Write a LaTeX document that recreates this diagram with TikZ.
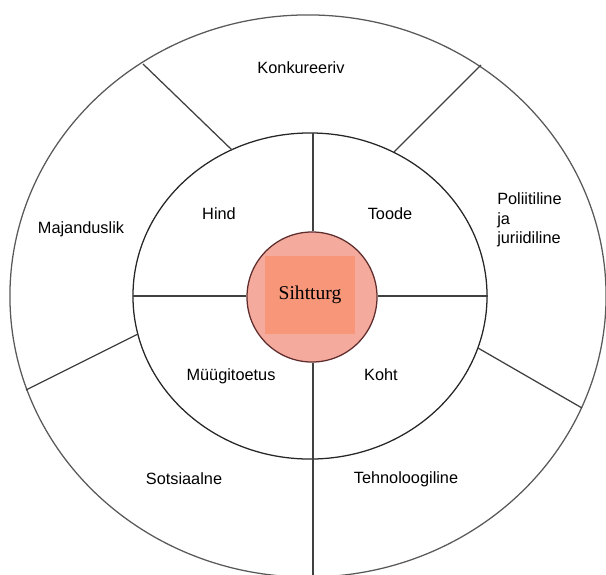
\documentclass[tikz,border=0pt]{standalone}
\usepackage{fontspec}
\setmainfont{Liberation Sans}
\newfontfamily\tnrfont{Liberation Serif}
\usepackage{xcolor}
\usepackage{tikz}
\usetikzlibrary{
  positioning,
  calc
}

\definecolor{hubpink}{RGB}{244,170,156}
\definecolor{hubcore}{RGB}{248,150,122}
\definecolor{hubrim}{RGB}{95,45,45}

\begin{document}
\begin{tikzpicture}[
    x=0.025cm, y=-0.025cm,
    font=\fontsize{11.6}{13.8}\selectfont,
    ring/.style={draw=black!65, line width=0.9pt},
    divider/.style={draw=black!75, line width=0.9pt},
    hub/.style={circle, draw=hubrim, line width=0.9pt, fill=hubpink,
                minimum size=3.25cm, inner sep=0pt},
    hubsq/.style={fill=hubcore, minimum width=2.225cm,
                  minimum height=1.925cm, inner sep=0pt,
                  font=\tnrfont\fontsize{13.9}{16}\selectfont},
    lbl/.style={inner sep=0pt, align=center},
  ]

  \useasboundingbox (0,0) rectangle (606,574);
  \clip (0,0) rectangle (606,574);

  % Rings
  \draw[ring] (308,296) ellipse [x radius=7.45cm, y radius=7.025cm];
  \draw[ring, draw=black!85] (310,296) ellipse [x radius=4.425cm, y radius=4.075cm];

  % Target market in the middle
  \node[hub] (hub) at (312,297) {};
  \node[hubsq] (core) at (310,295) {Sihtturg};

  % Cross inside the inner ring
  \coordinate (inL) at (133,296);
  \coordinate (inR) at (488,296);
  \coordinate (inT) at (313,133);
  \coordinate (outB) at (313,580);
  \draw[divider] (inL) -- (inL -| hub.west);
  \draw[divider] (inR -| hub.east) -- (inR);
  \draw[divider] (inT) -- (inT |- hub.north);
  \draw[divider] (outB |- hub.south) -- (outB);

  % Spokes of the outer ring
  \coordinate (ulI) at (232,150);  \coordinate (ulO) at (143,64);
  \coordinate (urI) at (394,152);  \coordinate (urO) at (481,65);
  \coordinate (llI) at (138,334);  \coordinate (llO) at (26,390);
  \coordinate (lrI) at (478,348);  \coordinate (lrO) at (582,408);
  \draw[divider] (ulI) -- (ulO);
  \draw[divider] (urI) -- (urO);
  \draw[divider] (llI) -- (llO);
  \draw[divider] (lrI) -- (lrO);

  % Marketing mix
  \node[lbl] (price) at (219,214) {Hind};
  \node[lbl] (prod)  at (390,214) {Toode};
  \node[lbl] (promo) at (231,376) {Müügitoetus};
  \node[lbl] (place) at (381,375) {Koht};

  % Environment
  \node[lbl] (comp)  at (301,68)  {Konkureeriv};
  \node[lbl] (econ)  at (81,229)  {Majanduslik};
  \node[lbl, align=left, anchor=west] (pol) at (497,220)
    {Poliitiline\\ja\\juriidiline};
  \node[lbl] (soc)   at (184,479) {Sotsiaalne};
  \node[lbl] (tech)  at (406,479) {Tehnoloogiline};

\end{tikzpicture}
\end{document}
